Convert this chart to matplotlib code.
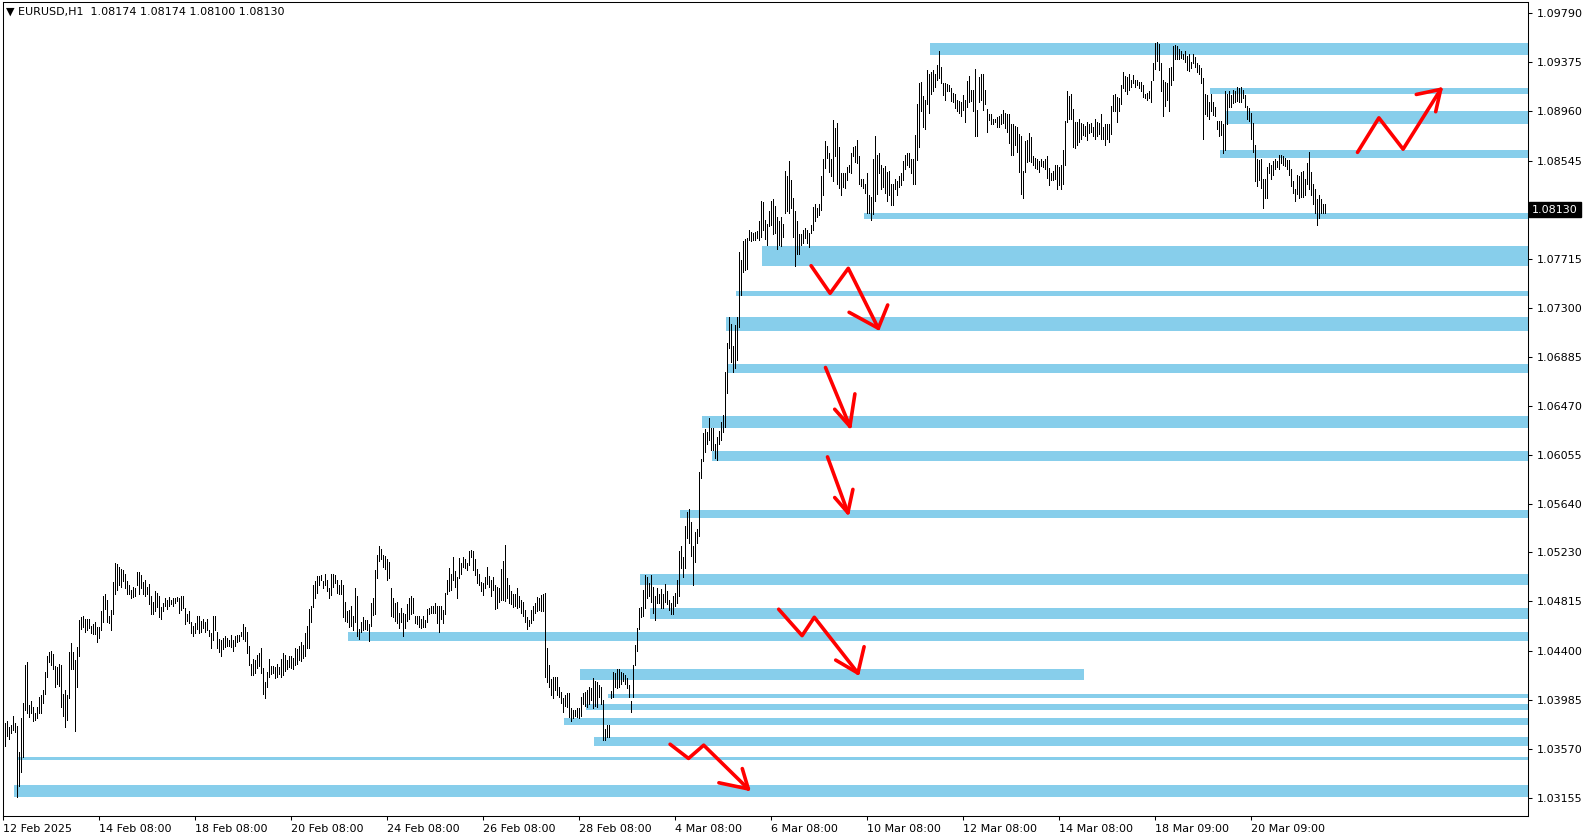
## EURUSD H1 - zonas y flechas

import matplotlib
matplotlib.use("Agg")
import matplotlib.pyplot as plt
from matplotlib.patches import Rectangle

# Barras H1 (maximo / minimo), una por hora desde 12 Feb 08:00
high = [
    1.0360, 1.0379, 1.0380, 1.0375, 1.0377, 1.0385, 1.0379, 1.0376, 1.0354, 1.0383,
    1.0396, 1.0428, 1.0430, 1.0394, 1.0397, 1.0392, 1.0387, 1.0392, 1.0401, 1.0402,
    1.0407, 1.0422, 1.0435, 1.0439, 1.0440, 1.0437, 1.0427, 1.0426, 1.0429, 1.0428,
    1.0403, 1.0407, 1.0402, 1.0439, 1.0446, 1.0439, 1.0432, 1.0443, 1.0466, 1.0468,
    1.0469, 1.0467, 1.0467, 1.0467, 1.0461, 1.0462, 1.0464, 1.0460, 1.0460, 1.0473,
    1.0486, 1.0488, 1.0483, 1.0469, 1.0474, 1.0498, 1.0514, 1.0513, 1.0511, 1.0509,
    1.0508, 1.0505, 1.0499, 1.0495, 1.0491, 1.0494, 1.0493, 1.0506, 1.0506, 1.0504,
    1.0498, 1.0500, 1.0494, 1.0496, 1.0486, 1.0481, 1.0490, 1.0489, 1.0486, 1.0477,
    1.0480, 1.0484, 1.0483, 1.0485, 1.0483, 1.0484, 1.0484, 1.0485, 1.0484, 1.0486,
    1.0486, 1.0476, 1.0471, 1.0473, 1.0464, 1.0461, 1.0463, 1.0469, 1.0469, 1.0465,
    1.0467, 1.0464, 1.0467, 1.0457, 1.0455, 1.0469, 1.0469, 1.0456, 1.0450, 1.0449,
    1.0451, 1.0452, 1.0451, 1.0449, 1.0453, 1.0449, 1.0452, 1.0453, 1.0453, 1.0456,
    1.0462, 1.0460, 1.0456, 1.0444, 1.0429, 1.0433, 1.0432, 1.0436, 1.0438, 1.0442,
    1.0425, 1.0413, 1.0422, 1.0433, 1.0427, 1.0427, 1.0426, 1.0429, 1.0426, 1.0433,
    1.0438, 1.0436, 1.0432, 1.0435, 1.0435, 1.0434, 1.0442, 1.0441, 1.0444, 1.0447,
    1.0445, 1.0455, 1.0461, 1.0475, 1.0478, 1.0495, 1.0499, 1.0503, 1.0503, 1.0504,
    1.0499, 1.0505, 1.0500, 1.0493, 1.0505, 1.0505, 1.0504, 1.0500, 1.0495, 1.0500,
    1.0495, 1.0481, 1.0473, 1.0474, 1.0478, 1.0469, 1.0493, 1.0486, 1.0458, 1.0464,
    1.0468, 1.0466, 1.0466, 1.0462, 1.0480, 1.0484, 1.0508, 1.0521, 1.0528, 1.0526,
    1.0521, 1.0520, 1.0517, 1.0515, 1.0493, 1.0484, 1.0480, 1.0481, 1.0472, 1.0476,
    1.0472, 1.0471, 1.0479, 1.0484, 1.0486, 1.0484, 1.0469, 1.0469, 1.0469, 1.0467,
    1.0469, 1.0466, 1.0475, 1.0476, 1.0478, 1.0478, 1.0480, 1.0478, 1.0478, 1.0478,
    1.0474, 1.0489, 1.0500, 1.0510, 1.0505, 1.0519, 1.0507, 1.0502, 1.0518, 1.0514,
    1.0519, 1.0517, 1.0514, 1.0524, 1.0525, 1.0524, 1.0517, 1.0509, 1.0505, 1.0498,
    1.0497, 1.0502, 1.0511, 1.0503, 1.0500, 1.0502, 1.0495, 1.0494, 1.0493, 1.0509,
    1.0516, 1.0529, 1.0501, 1.0495, 1.0490, 1.0488, 1.0488, 1.0493, 1.0486, 1.0483,
    1.0481, 1.0474, 1.0468, 1.0466, 1.0474, 1.0478, 1.0480, 1.0485, 1.0484, 1.0487,
    1.0488, 1.0489, 1.0442, 1.0428, 1.0416, 1.0418, 1.0418, 1.0418, 1.0409, 1.0405,
    1.0400, 1.0402, 1.0404, 1.0404, 1.0391, 1.0390, 1.0390, 1.0391, 1.0391, 1.0401,
    1.0404, 1.0405, 1.0407, 1.0409, 1.0408, 1.0417, 1.0414, 1.0413, 1.0411, 1.0409,
    1.0398, 1.0374, 1.0377, 1.0377, 1.0406, 1.0422, 1.0421, 1.0424, 1.0424, 1.0422,
    1.0421, 1.0419, 1.0417, 1.0411, 1.0397, 1.0428, 1.0445, 1.0459, 1.0476, 1.0477,
    1.0491, 1.0504, 1.0502, 1.0497, 1.0504, 1.0494, 1.0486, 1.0493, 1.0488, 1.0492,
    1.0488, 1.0496, 1.0490, 1.0483, 1.0480, 1.0486, 1.0489, 1.0500, 1.0524, 1.0528,
    1.0519, 1.0545, 1.0557, 1.0560, 1.0549, 1.0528, 1.0540, 1.0543, 1.0591, 1.0602,
    1.0624, 1.0627, 1.0625, 1.0637, 1.0628, 1.0628, 1.0615, 1.0621, 1.0626, 1.0633,
    1.0639, 1.0676, 1.0700, 1.0722, 1.0716, 1.0698, 1.0715, 1.0722, 1.0777, 1.0770,
    1.0786, 1.0788, 1.0789, 1.0796, 1.0794, 1.0793, 1.0794, 1.0795, 1.0803, 1.0820,
    1.0819, 1.0804, 1.0801, 1.0812, 1.0820, 1.0822, 1.0816, 1.0807, 1.0803, 1.0807,
    1.0801, 1.0846, 1.0841, 1.0854, 1.0838, 1.0823, 1.0812, 1.0803, 1.0792, 1.0792,
    1.0796, 1.0797, 1.0796, 1.0793, 1.0800, 1.0815, 1.0818, 1.0814, 1.0818, 1.0841,
    1.0856, 1.0871, 1.0867, 1.0861, 1.0856, 1.0889, 1.0882, 1.0886, 1.0866, 1.0844,
    1.0844, 1.0844, 1.0849, 1.0851, 1.0861, 1.0866, 1.0867, 1.0872, 1.0858, 1.0839,
    1.0839, 1.0835, 1.0844, 1.0825, 1.0824, 1.0856, 1.0875, 1.0859, 1.0861, 1.0851,
    1.0848, 1.0850, 1.0845, 1.0846, 1.0835, 1.0835, 1.0839, 1.0837, 1.0841, 1.0844,
    1.0854, 1.0859, 1.0861, 1.0861, 1.0856, 1.0856, 1.0876, 1.0902, 1.0920, 1.0921,
    1.0909, 1.0906, 1.0931, 1.0928, 1.0929, 1.0931, 1.0928, 1.0935, 1.0947, 1.0934,
    1.0920, 1.0920, 1.0919, 1.0918, 1.0916, 1.0912, 1.0911, 1.0906, 1.0905, 1.0904,
    1.0910, 1.0906, 1.0922, 1.0926, 1.0914, 1.0914, 1.0932, 1.0897, 1.0925, 1.0928,
    1.0928, 1.0914, 1.0898, 1.0894, 1.0894, 1.0890, 1.0890, 1.0891, 1.0892, 1.0894,
    1.0897, 1.0895, 1.0894, 1.0894, 1.0885, 1.0885, 1.0884, 1.0883, 1.0877, 1.0875,
    1.0846, 1.0871, 1.0872, 1.0878, 1.0874, 1.0858, 1.0857, 1.0856, 1.0854, 1.0856,
    1.0854, 1.0856, 1.0858, 1.0848, 1.0844, 1.0846, 1.0851, 1.0851, 1.0849, 1.0851,
    1.0863, 1.0888, 1.0913, 1.0909, 1.0911, 1.0898, 1.0887, 1.0887, 1.0890, 1.0886,
    1.0885, 1.0884, 1.0887, 1.0885, 1.0886, 1.0883, 1.0890, 1.0887, 1.0886, 1.0894,
    1.0883, 1.0885, 1.0885, 1.0885, 1.0901, 1.0910, 1.0911, 1.0908, 1.0907, 1.0918,
    1.0929, 1.0926, 1.0925, 1.0928, 1.0923, 1.0927, 1.0923, 1.0923, 1.0921, 1.0921,
    1.0918, 1.0911, 1.0912, 1.0913, 1.0922, 1.0937, 1.0954, 1.0955, 1.0953, 1.0937,
    1.0923, 1.0921, 1.0920, 1.0933, 1.0934, 1.0951, 1.0952, 1.0951, 1.0949, 1.0947,
    1.0945, 1.0947, 1.0943, 1.0945, 1.0938, 1.0945, 1.0942, 1.0937, 1.0935, 1.0933,
    1.0924, 1.0911, 1.0910, 1.0904, 1.0911, 1.0904, 1.0900, 1.0888, 1.0888, 1.0888,
    1.0885, 1.0913, 1.0911, 1.0913, 1.0910, 1.0914, 1.0913, 1.0917, 1.0916, 1.0917,
    1.0914, 1.0910, 1.0901, 1.0899, 1.0895, 1.0886, 1.0868, 1.0856, 1.0855, 1.0856,
    1.0839, 1.0839, 1.0849, 1.0852, 1.0851, 1.0854, 1.0856, 1.0854, 1.0859, 1.0859,
    1.0858, 1.0857, 1.0855, 1.0855, 1.0847, 1.0837, 1.0830, 1.0842, 1.0841, 1.0845,
    1.0846, 1.0839, 1.0852, 1.0862, 1.0845, 1.0835, 1.0830, 1.0822, 1.0825, 1.0822,
    1.0818, 1.08174,
]
low = [
    1.0357, 1.0359, 1.0368, 1.0365, 1.0370, 1.0373, 1.0371, 1.0316, 1.0325, 1.0337,
    1.0350, 1.0390, 1.0387, 1.0384, 1.0387, 1.0380, 1.0381, 1.0383, 1.0387, 1.0387,
    1.0396, 1.0403, 1.0418, 1.0430, 1.0428, 1.0424, 1.0409, 1.0412, 1.0410, 1.0392,
    1.0385, 1.0375, 1.0381, 1.0400, 1.0424, 1.0424, 1.0372, 1.0409, 1.0435, 1.0458,
    1.0460, 1.0456, 1.0457, 1.0459, 1.0455, 1.0454, 1.0454, 1.0447, 1.0451, 1.0457,
    1.0464, 1.0475, 1.0464, 1.0463, 1.0457, 1.0471, 1.0488, 1.0491, 1.0495, 1.0494,
    1.0499, 1.0493, 1.0488, 1.0488, 1.0484, 1.0485, 1.0486, 1.0495, 1.0488, 1.0493,
    1.0488, 1.0486, 1.0488, 1.0479, 1.0471, 1.0471, 1.0473, 1.0477, 1.0468, 1.0467,
    1.0473, 1.0478, 1.0475, 1.0478, 1.0479, 1.0478, 1.0480, 1.0482, 1.0472, 1.0474,
    1.0476, 1.0462, 1.0465, 1.0463, 1.0455, 1.0452, 1.0455, 1.0458, 1.0455, 1.0456,
    1.0459, 1.0456, 1.0457, 1.0452, 1.0442, 1.0449, 1.0457, 1.0442, 1.0439, 1.0435,
    1.0441, 1.0443, 1.0444, 1.0444, 1.0443, 1.0440, 1.0444, 1.0447, 1.0448, 1.0452,
    1.0450, 1.0448, 1.0438, 1.0428, 1.0419, 1.0419, 1.0421, 1.0425, 1.0427, 1.0421,
    1.0403, 1.0400, 1.0409, 1.0418, 1.0420, 1.0421, 1.0417, 1.0418, 1.0420, 1.0418,
    1.0419, 1.0423, 1.0424, 1.0426, 1.0425, 1.0424, 1.0428, 1.0429, 1.0432, 1.0431,
    1.0434, 1.0435, 1.0442, 1.0442, 1.0464, 1.0477, 1.0484, 1.0489, 1.0495, 1.0500,
    1.0493, 1.0495, 1.0490, 1.0484, 1.0487, 1.0494, 1.0497, 1.0489, 1.0488, 1.0488,
    1.0468, 1.0465, 1.0464, 1.0460, 1.0461, 1.0457, 1.0464, 1.0452, 1.0450, 1.0456,
    1.0457, 1.0458, 1.0457, 1.0448, 1.0461, 1.0470, 1.0471, 1.0501, 1.0516, 1.0517,
    1.0511, 1.0509, 1.0500, 1.0501, 1.0469, 1.0468, 1.0465, 1.0463, 1.0459, 1.0464,
    1.0452, 1.0459, 1.0465, 1.0467, 1.0471, 1.0472, 1.0463, 1.0462, 1.0460, 1.0459,
    1.0460, 1.0460, 1.0464, 1.0471, 1.0472, 1.0472, 1.0472, 1.0463, 1.0456, 1.0467,
    1.0463, 1.0471, 1.0488, 1.0490, 1.0491, 1.0500, 1.0494, 1.0484, 1.0501, 1.0505,
    1.0511, 1.0510, 1.0508, 1.0512, 1.0519, 1.0508, 1.0504, 1.0497, 1.0495, 1.0490,
    1.0487, 1.0493, 1.0496, 1.0494, 1.0486, 1.0491, 1.0475, 1.0476, 1.0481, 1.0483,
    1.0483, 1.0482, 1.0484, 1.0480, 1.0479, 1.0477, 1.0478, 1.0476, 1.0477, 1.0472,
    1.0469, 1.0464, 1.0458, 1.0461, 1.0463, 1.0466, 1.0472, 1.0473, 1.0474, 1.0473,
    1.0473, 1.0418, 1.0413, 1.0409, 1.0402, 1.0400, 1.0407, 1.0402, 1.0401, 1.0396,
    1.0388, 1.0393, 1.0392, 1.0384, 1.0380, 1.0383, 1.0385, 1.0384, 1.0383, 1.0385,
    1.0395, 1.0393, 1.0392, 1.0395, 1.0398, 1.0391, 1.0393, 1.0392, 1.0401, 1.0395,
    1.0364, 1.0364, 1.0367, 1.0367, 1.0400, 1.0401, 1.0409, 1.0408, 1.0409, 1.0412,
    1.0414, 1.0412, 1.0408, 1.0401, 1.0388, 1.0401, 1.0428, 1.0440, 1.0458, 1.0468,
    1.0469, 1.0476, 1.0484, 1.0486, 1.0481, 1.0472, 1.0466, 1.0480, 1.0480, 1.0476,
    1.0476, 1.0481, 1.0479, 1.0474, 1.0471, 1.0471, 1.0478, 1.0480, 1.0486, 1.0510,
    1.0502, 1.0510, 1.0535, 1.0531, 1.0520, 1.0495, 1.0515, 1.0531, 1.0537, 1.0586,
    1.0600, 1.0608, 1.0615, 1.0618, 1.0610, 1.0610, 1.0603, 1.0601, 1.0615, 1.0618,
    1.0625, 1.0629, 1.0658, 1.0696, 1.0684, 1.0676, 1.0679, 1.0686, 1.0714, 1.0741,
    1.0760, 1.0762, 1.0763, 1.0787, 1.0786, 1.0787, 1.0787, 1.0789, 1.0787, 1.0790,
    1.0796, 1.0788, 1.0783, 1.0799, 1.0800, 1.0792, 1.0793, 1.0780, 1.0783, 1.0782,
    1.0790, 1.0810, 1.0812, 1.0810, 1.0814, 1.0790, 1.0765, 1.0775, 1.0775, 1.0783,
    1.0785, 1.0789, 1.0785, 1.0781, 1.0793, 1.0796, 1.0803, 1.0807, 1.0808, 1.0813,
    1.0825, 1.0848, 1.0857, 1.0845, 1.0841, 1.0837, 1.0858, 1.0835, 1.0831, 1.0825,
    1.0832, 1.0831, 1.0838, 1.0845, 1.0844, 1.0858, 1.0853, 1.0852, 1.0835, 1.0833,
    1.0831, 1.0827, 1.0810, 1.0810, 1.0804, 1.0809, 1.0820, 1.0826, 1.0844, 1.0830,
    1.0832, 1.0827, 1.0820, 1.0825, 1.0817, 1.0817, 1.0830, 1.0825, 1.0832, 1.0834,
    1.0838, 1.0847, 1.0851, 1.0849, 1.0844, 1.0835, 1.0835, 1.0855, 1.0866, 1.0896,
    1.0883, 1.0881, 1.0902, 1.0895, 1.0911, 1.0913, 1.0917, 1.0923, 1.0924, 1.0920,
    1.0910, 1.0906, 1.0913, 1.0913, 1.0905, 1.0904, 1.0899, 1.0896, 1.0895, 1.0892,
    1.0897, 1.0887, 1.0900, 1.0904, 1.0905, 1.0896, 1.0875, 1.0875, 1.0904, 1.0906,
    1.0897, 1.0902, 1.0879, 1.0889, 1.0885, 1.0885, 1.0887, 1.0883, 1.0883, 1.0885,
    1.0886, 1.0882, 1.0879, 1.0869, 1.0859, 1.0859, 1.0868, 1.0862, 1.0845, 1.0826,
    1.0823, 1.0845, 1.0853, 1.0854, 1.0853, 1.0851, 1.0848, 1.0847, 1.0845, 1.0850,
    1.0849, 1.0847, 1.0840, 1.0834, 1.0838, 1.0838, 1.0839, 1.0830, 1.0834, 1.0830,
    1.0835, 1.0851, 1.0887, 1.0890, 1.0890, 1.0866, 1.0865, 1.0868, 1.0870, 1.0873,
    1.0876, 1.0875, 1.0872, 1.0878, 1.0879, 1.0875, 1.0873, 1.0875, 1.0877, 1.0873,
    1.0873, 1.0868, 1.0873, 1.0870, 1.0877, 1.0896, 1.0896, 1.0887, 1.0896, 1.0902,
    1.0916, 1.0913, 1.0911, 1.0914, 1.0917, 1.0920, 1.0917, 1.0918, 1.0916, 1.0913,
    1.0908, 1.0907, 1.0906, 1.0907, 1.0904, 1.0923, 1.0932, 1.0939, 1.0931, 1.0913,
    1.0892, 1.0901, 1.0906, 1.0896, 1.0918, 1.0923, 1.0940, 1.0940, 1.0940, 1.0941,
    1.0940, 1.0938, 1.0931, 1.0930, 1.0933, 1.0937, 1.0934, 1.0929, 1.0928, 1.0920,
    1.0873, 1.0894, 1.0892, 1.0890, 1.0896, 1.0893, 1.0892, 1.0881, 1.0875, 1.0876,
    1.0861, 1.0863, 1.0885, 1.0900, 1.0900, 1.0903, 1.0904, 1.0905, 1.0904, 1.0904,
    1.0907, 1.0900, 1.0890, 1.0888, 1.0873, 1.0862, 1.0837, 1.0833, 1.0838, 1.0831,
    1.0814, 1.0823, 1.0823, 1.0844, 1.0839, 1.0842, 1.0847, 1.0849, 1.0847, 1.0852,
    1.0851, 1.0850, 1.0847, 1.0842, 1.0833, 1.0827, 1.0820, 1.0826, 1.0823, 1.0824,
    1.0824, 1.0825, 1.0835, 1.0830, 1.0825, 1.0818, 1.0810, 1.0800, 1.0806, 1.0810,
    1.0810, 1.08100,
]

# Zonas azules: barra de inicio, precio bajo, precio alto (hasta el borde derecho)
zone_start = [464, 604, 612, 609, 431, 380, 367, 362, 363, 350, 355, 339, 319, 324,
              173, 303, 292, 281, 296, 8, 6]
zone_low = [1.0944, 1.0911, 1.0885, 1.0857, 1.0805, 1.0765, 1.0740, 1.0710, 1.0675,
            1.0628, 1.0600, 1.0552, 1.0495, 1.0467, 1.0448, 1.0400, 1.0390, 1.0377,
            1.0359, 1.0347, 1.0316]
zone_high = [1.0954, 1.0916, 1.0896, 1.0863, 1.0810, 1.0782, 1.0744, 1.0722, 1.0682,
             1.0638, 1.0609, 1.0559, 1.0505, 1.0476, 1.0456, 1.0403, 1.0395, 1.0383,
             1.0367, 1.0350, 1.0326]
# zona corta (no llega al borde)
short_zone = (289, 541, 1.0415, 1.0424)

# Flechas rojas dibujadas a mano: (barra, precio)
arrows = [
    [(403.9, 1.07655), (413.4, 1.07422), (422.5, 1.07633), (437.5, 1.07126)],
    [(411.1, 1.06794), (423.3, 1.06296)],
    [(412.1, 1.06038), (422.3, 1.05566)],
    [(387.7, 1.04749), (399.4, 1.04526), (405.5, 1.04681), (427.3, 1.04209)],
    [(333.4, 1.03607), (342.6, 1.03487), (350.2, 1.03599), (372.5, 1.03229)],
    [(677.1, 1.08614), (687.8, 1.08906), (699.9, 1.08641), (718.7, 1.09147)],
]
arrow_heads = [
    [(422.9, 1.07261), (442.2, 1.07323)],
    [(415.7, 1.06441), (425.8, 1.06571)],
    [(415.7, 1.05694), (424.8, 1.05763)],
    [(416.2, 1.04319), (430.4, 1.04432)],
    [(357.8, 1.03281), (369.5, 1.03401)],
    [(706.5, 1.09104), (716.2, 1.08958)],
]

y_ticks = [1.09790, 1.09375, 1.08960, 1.08545, 1.07715, 1.07300, 1.06885, 1.06470,
           1.06055, 1.05640, 1.05230, 1.04815, 1.04400, 1.03985, 1.03570, 1.03155]
x_ticks = [0, 48, 96, 144, 192, 240, 288, 336, 384, 432, 480, 528, 576, 624]
x_labels = ['12 Feb 2025', '14 Feb 08:00', '18 Feb 08:00', '20 Feb 08:00', '24 Feb 08:00',
            '26 Feb 08:00', '28 Feb 08:00', '4 Mar 08:00', '6 Mar 08:00', '10 Mar 08:00',
            '12 Mar 08:00', '14 Mar 08:00', '18 Mar 09:00', '20 Mar 09:00']
last_price = 1.08130
header = '\u25bc EURUSD,H1  1.08174 1.08174 1.08100 1.08130'

W, H = 1592, 840
fig = plt.figure(figsize=(W / 100, H / 100), dpi=100)
ax = fig.add_axes([3 / W, 24 / H, 1525 / W, 814 / H])
x_min, x_max = -0.15, 762.35
ax.set_xlim(x_min, x_max)
ax.set_ylim(1.03000, 1.09886)

blue = '#87CEEB'
for s, lo, hi in zip(zone_start, zone_low, zone_high):
    ax.add_patch(Rectangle((s - 0.5, lo), x_max - s + 1, hi - lo, fc=blue, ec='none', zorder=1))
s, e, lo, hi = short_zone
ax.add_patch(Rectangle((s - 0.5, lo), e - s, hi - lo, fc=blue, ec='none', zorder=1))

idx = list(range(len(high)))
ax.vlines(idx, low, high, colors='black', linewidth=0.5, antialiased=False, zorder=2)

for path, heads in zip(arrows, arrow_heads):
    xs = [p[0] for p in path]
    ys = [p[1] for p in path]
    ax.plot(xs, ys, color='red', lw=2.6, solid_capstyle='round', solid_joinstyle='round', zorder=4)
    tx, ty = path[-1]
    for hx, hy in heads:
        ax.plot([hx, tx], [hy, ty], color='red', lw=2.6, solid_capstyle='round', zorder=4)

# Ejes estilo MT4
for sp in ax.spines.values():
    sp.set_linewidth(0.75)
ax.yaxis.tick_right()
ax.set_yticks(y_ticks)
ax.set_yticklabels(['%.5f' % v for v in y_ticks])
ax.set_xticks(x_ticks)
ax.set_xticklabels(x_labels)
ax.tick_params(axis='both', labelsize=8, length=3, width=0.75, direction='out', pad=3)
for lab in ax.get_xticklabels():
    lab.set_horizontalalignment('left')

ax.text(1.0 + 4 / 1525, last_price, '%.5f' % last_price, transform=ax.get_yaxis_transform(),
        ha='left', va='center', fontsize=8, color='white', clip_on=False, zorder=5,
        bbox=dict(boxstyle='square,pad=0.25', fc='black', ec='black'))

fig.text(6 / W, 1 - 12 / H, header, fontsize=8, va='center', ha='left')

fig.savefig('out.png', dpi=100)
